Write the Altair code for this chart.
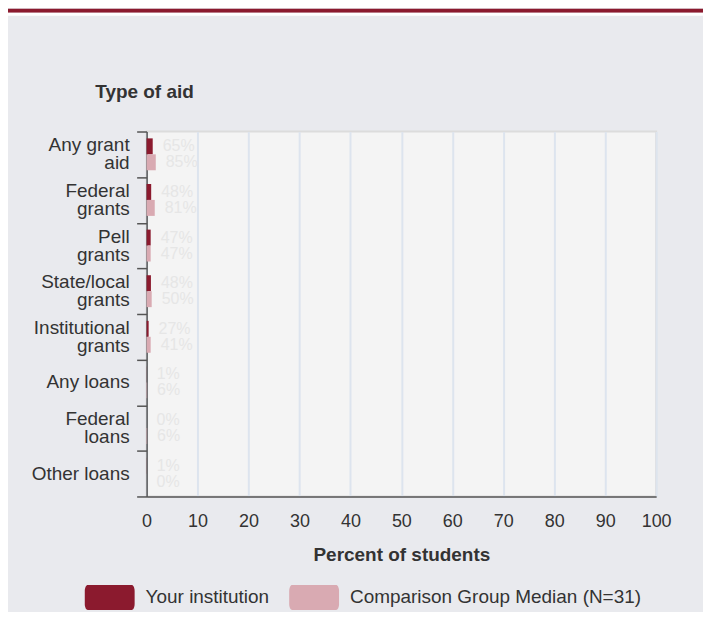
import altair as alt
import pandas as pd

# Category labels (with their line breaks as shown on the axis)
categories = [
    "Any grant\naid",
    "Federal\ngrants",
    "Pell\ngrants",
    "State/local\ngrants",
    "Institutional\ngrants",
    "Any loans",
    "Federal\nloans",
    "Other loans",
]
series = ["Your institution", "Comparison Group Median (N=31)"]
series_colors = ["#8b1a2e", "#d9aab2"]

# Percentages printed next to the bars
inst_pct = [65, 48, 47, 48, 27, 1, 0, 1]
comp_pct = [85, 81, 47, 50, 41, 6, 6, 0]

# Bar lengths as drawn on the 0-100 axis
inst_bar = [1.2, 0.9, 0.8, 0.85, 0.4, 0.02, 0.0, 0.02]
comp_bar = [1.8, 1.6, 0.8, 1.0, 0.8, 0.1, 0.1, 0.0]

x_ticks = [0, 10, 20, 30, 40, 50, 60, 70, 80, 90, 100]

rows = []
for i, c in enumerate(categories):
    rows.append({"aid": c, "series": series[0], "bar": inst_bar[i], "label": f"{inst_pct[i]}%"})
    rows.append({"aid": c, "series": series[1], "bar": comp_bar[i], "label": f"{comp_pct[i]}%"})
df = pd.DataFrame(rows)

two_line = pd.DataFrame({"aid": [c for c in categories if "\n" in c]})
one_line = pd.DataFrame({"aid": [c for c in categories if "\n" not in c]})

legend_path = (
    "M-0.88,-0.5 H0.88 A0.12,0.24 0 0 1 1,-0.26 V0.26 A0.12,0.24 0 0 1 0.88,0.5 "
    "H-0.88 A0.12,0.24 0 0 1 -1,0.26 V-0.26 A0.12,0.24 0 0 1 -0.88,-0.5 Z"
)

y_enc = alt.Y(
    "aid:N",
    sort=categories,
    scale=alt.Scale(paddingInner=0, paddingOuter=0),
    axis=alt.Axis(
        title="Type of aid",
        titleAngle=0,
        titleAlign="left",
        titleBaseline="middle",
        titleX=-52,
        titleY=-40,
        titleFontSize=19,
        titleFontWeight="bold",
        titleColor="#333333",
        tickBand="extent",
        tickSize=10,
        tickColor="#555555",
        tickWidth=1.5,
        domainColor="#555555",
        domainWidth=1.5,
        labels=False,
        grid=False,
    ),
)
yoff_enc = alt.YOffset("series:N", sort=series, scale=alt.Scale(paddingOuter=0.43, paddingInner=0))
x_enc = alt.X(
    "bar:Q",
    scale=alt.Scale(domain=[0, 100], nice=False),
    axis=alt.Axis(
        title="Percent of students",
        values=x_ticks,
        ticks=False,
        grid=True,
        gridColor="#dde4ee",
        gridWidth=2,
        domainColor="#555555",
        domainWidth=1.5,
        labelFontSize=18,
        labelColor="#333333",
        labelPadding=16,
        labelFlush=False,
        titleFontSize=19,
        titleFontWeight="bold",
        titleColor="#333333",
        titlePadding=15,
    ),
)

bars = alt.Chart(df).mark_bar().encode(
    y=y_enc,
    yOffset=yoff_enc,
    x=x_enc,
    color=alt.Color(
        "series:N",
        sort=series,
        scale=alt.Scale(domain=series, range=series_colors),
        legend=alt.Legend(
            title=None,
            orient="none",
            direction="horizontal",
            legendX=-62,
            legendY=442,
            symbolType=legend_path,
            symbolSize=2500,
            symbolStrokeWidth=0,
            symbolOpacity=1,
            labelFontSize=19,
            labelColor="#333333",
            labelOffset=11,
            labelLimit=400,
            columnPadding=20,
            padding=0,
        ),
    ),
)

texts = alt.Chart(df).mark_text(
    align="left", baseline="middle", dx=10, fontSize=16, color="#e6e6e6"
).encode(
    y=alt.Y("aid:N", sort=categories),
    yOffset=alt.YOffset("series:N", sort=series),
    x=alt.X("bar:Q"),
    text="label:N",
)

label_style = dict(
    align="right", baseline="middle", fontSize=19, color="#333333",
    lineBreak="\n", lineHeight=18,
)
ylab2 = alt.Chart(two_line).mark_text(dy=-9, **label_style).encode(
    y=alt.Y("aid:N", sort=categories), x=alt.value(-17), text="aid:N"
)
ylab1 = alt.Chart(one_line).mark_text(**label_style).encode(
    y=alt.Y("aid:N", sort=categories), x=alt.value(-17), text="aid:N"
)

stripe = alt.Chart(alt.Data(values=[{"k": 1}])).mark_rect(color="#8b1a2e").encode(
    x=alt.value(-139), x2=alt.value(560), y=alt.value(-123), y2=alt.value(-119)
)
gap = alt.Chart(alt.Data(values=[{"k": 1}])).mark_rect(color="#ffffff").encode(
    x=alt.value(-139), x2=alt.value(560), y=alt.value(-119), y2=alt.value(-116)
)

chart = (
    alt.layer(stripe, gap, bars, texts, ylab2, ylab1)
    .properties(
        width=511,
        height=366,
        autosize=alt.AutoSizeParams(type="none"),
        padding={"left": 139, "top": 123, "right": 47, "bottom": 115},
    )
    .configure(font="Liberation Sans", background="#e9eaee")
    .configure_view(fill="#f4f4f4", stroke="#dcdcdc", strokeWidth=2)
)

chart.save("out.html", embed_options={"renderer": "svg", "actions": False})
